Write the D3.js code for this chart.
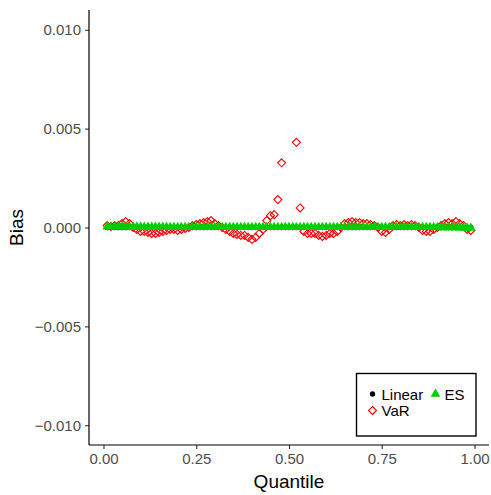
<!DOCTYPE html>
<html>
<head>
<meta charset="utf-8">
<script src="https://cdn.jsdelivr.net/npm/d3@7"></script>
<style>
  html, body { margin: 0; padding: 0; background: #fff; }
  svg { display: block; font-family: "Liberation Sans", Arial, Helvetica, sans-serif; }
</style>
</head>
<body>
<svg id="chart" width="491" height="495"></svg>
<script>
// Quantile grid 0.01 ... 0.99
const quantiles = d3.range(1, 100).map(i => i / 100);

// Bias of the linear estimator (essentially zero everywhere)
const linearBias = quantiles.map(() => 0);

// Bias of the ES estimator
const esBias = [
  0.00004, 0.00004, 0.00004, 0.00004, 0.00004, 0.00003, 0.00003, 0.00003, 0.00003, 0.00003,
  0.00002, 0.00002, 0.00002, 0.00002, 0.00002, 0.00002, 0.00002, 0.00001, 0.00001, 0.00001,
  0.00001, 0.00001, 0.00001, 0.00001, 0.00001, 0.00001, 0.00001, 0.00001, 0.00001, 0.00001,
  0.00001, 0.00001, 0.00001, 0.00001, 0.00001, 0.00001, 0.00001, 0.00001, 0.00001, 0.00001,
  0.00001, 0.00001, 0.00001, 0.00001, 0.00001, 0.00001, 0.00001, 0.00001, 0.00001, 0.00001,
  0.00001, 0.00001, 0.00001, 0.00001, 0.00001, 0.00001, 0.00001, 0.00001, 0.00001, 0.00001,
  0.00001, 0.00001, 0.00001, 0.00001, 0.00001, 0.00001, 0.00001, 0.00001, 0.00001, 0.00001,
  0.00001, 0.00001, 0.00001, 0.00001, 0.00001, 0.00001, 0.00001, 0.00001, 0.00001, 0.00001,
  0.00001, 0.00001, 0.00001, 0.00001, 0.00001, 0.00001, 0.00001, 0.00001, 0.00001, 0.00000,
  0.00000, 0.00000, 0.00000, 0.00000, 0.00000, -0.00001, -0.00001, -0.00002, -0.00003
];

// Bias of the VaR estimator (null = outside the plotted range)
const varBias = [
  0.00010, 0.00005, 0.00010, 0.00010, 0.00020, 0.00030, 0.00020, 0.00000, -0.00010, -0.00020,
  -0.00020, -0.00025, -0.00030, -0.00030, -0.00025, -0.00020, -0.00015, -0.00010, -0.00010, -0.00015,
  -0.00010, -0.00005, 0.00000, 0.00010, 0.00015, 0.00020, 0.00025, 0.00030, 0.00035, 0.00020,
  0.00010, 0.00000, -0.00010, -0.00020, -0.00030, -0.00035, -0.00040, -0.00040, -0.00050, -0.00060,
  -0.00050, -0.00030, -0.00010, 0.00035, 0.00060, 0.00065, 0.00141, 0.00327, null, null,
  null, 0.00431, 0.00099, -0.00020, -0.00030, -0.00030, -0.00030, -0.00040, -0.00045, -0.00040,
  -0.00030, -0.00030, -0.00020, 0.00000, 0.00020, 0.00025, 0.00030, 0.00025, 0.00025, 0.00020,
  0.00020, 0.00015, 0.00010, 0.00000, -0.00020, -0.00025, -0.00010, 0.00010, 0.00015, 0.00010,
  0.00015, 0.00010, 0.00015, 0.00010, 0.00000, -0.00015, -0.00020, -0.00020, -0.00010, 0.00000,
  0.00010, 0.00020, 0.00025, 0.00020, 0.00030, 0.00020, 0.00010, -0.00010, -0.00015
];

const xTicks = [0, 0.25, 0.5, 0.75, 1];
const xTickLabels = ["0.00", "0.25", "0.50", "0.75", "1.00"];
const yTicks = [-0.01, -0.005, 0, 0.005, 0.01];
const yTickLabels = ["\u22120.010", "\u22120.005", "0.000", "0.005", "0.010"];

const legendItems = ["Linear", "ES", "VaR"];

const svg = d3.select("#chart");
const panel = { left: 89, right: 489, top: 10, bottom: 445 };

const x = d3.scaleLinear()
  .domain([0.01 - 0.049, 0.99 + 0.049])
  .range([panel.left, panel.right]);
const y = d3.scaleLinear()
  .domain([-0.011, 0.011])
  .range([panel.bottom, panel.top]);

// Axes
const xAxis = d3.axisBottom(x).tickValues(xTicks)
  .tickFormat((d, i) => xTickLabels[i]).tickSize(4).tickPadding(4).tickSizeOuter(0);
const yAxis = d3.axisLeft(y).tickValues(yTicks)
  .tickFormat((d, i) => yTickLabels[i]).tickSize(4).tickPadding(4).tickSizeOuter(0);

const gx = svg.append("g").attr("transform", `translate(0,${panel.bottom})`).call(xAxis);
const gy = svg.append("g").attr("transform", `translate(${panel.left},0)`).call(yAxis);

[gx, gy].forEach(g => {
  g.select(".domain").remove();
  g.selectAll(".tick line").attr("stroke", "#333").attr("stroke-width", 1.1);
  g.selectAll(".tick text").attr("fill", "#4d4d4d").style("font-size", "15px");
});

svg.append("line")
  .attr("x1", panel.left).attr("x2", panel.right)
  .attr("y1", panel.bottom).attr("y2", panel.bottom)
  .attr("stroke", "#000").attr("stroke-width", 1.2);
svg.append("line")
  .attr("x1", panel.left).attr("x2", panel.left)
  .attr("y1", panel.top).attr("y2", panel.bottom)
  .attr("stroke", "#000").attr("stroke-width", 1.2);

// Axis titles
svg.append("text")
  .attr("x", (panel.left + panel.right) / 2).attr("y", 488)
  .attr("text-anchor", "middle").style("font-size", "19px").attr("fill", "#000")
  .text("Quantile");
svg.append("text")
  .attr("transform", `translate(23,${(panel.top + panel.bottom) / 2}) rotate(-90)`)
  .attr("text-anchor", "middle").style("font-size", "19px").attr("fill", "#000")
  .text("Bias");

// Marks
const plot = svg.append("g");
const dotSym = d3.symbol().type(d3.symbolCircle).size(22);
const triSym = d3.symbol().type(d3.symbolTriangle).size(40);
const diamondPath = s => `M0,${-s}L${s},0L0,${s}L${-s},0Z`;

function pts(values) {
  return quantiles.map((q, i) => ({ q, v: values[i] })).filter(d => d.v !== null);
}

plot.selectAll(".lin").data(pts(linearBias)).join("path")
  .attr("d", dotSym)
  .attr("transform", d => `translate(${x(d.q)},${y(d.v)})`)
  .attr("fill", "#000");

plot.selectAll(".var").data(pts(varBias)).join("path")
  .attr("d", diamondPath(4))
  .attr("transform", d => `translate(${x(d.q)},${y(d.v)})`)
  .attr("fill", "none").attr("stroke", "#ff0000").attr("stroke-width", 1.1);

plot.selectAll(".es").data(pts(esBias)).join("path")
  .attr("d", triSym)
  .attr("transform", d => `translate(${x(d.q)},${y(d.v)})`)
  .attr("fill", "#00cd00");

// Legend
const lg = svg.append("g");
lg.append("rect")
  .attr("x", 356.5).attr("y", 373.5).attr("width", 119.5).attr("height", 62.5)
  .attr("fill", "#fff").attr("stroke", "#000").attr("stroke-width", 1.4);

const legendPos = [
  { key: legendItems[0], kx: 372.5, ky: 394 },
  { key: legendItems[1], kx: 435.5, ky: 394 },
  { key: legendItems[2], kx: 372.5, ky: 410.5 }
];
legendPos.forEach(p => {
  const g = lg.append("g").attr("transform", `translate(${p.kx},${p.ky})`);
  if (p.key === "Linear") g.append("path").attr("d", dotSym).attr("fill", "#000");
  if (p.key === "ES") g.append("path").attr("d", triSym).attr("fill", "#00cd00");
  if (p.key === "VaR") g.append("path").attr("d", diamondPath(4))
    .attr("fill", "none").attr("stroke", "#ff0000").attr("stroke-width", 1.1);
  lg.append("text").attr("x", p.kx + 9).attr("y", p.ky + 5.5)
    .style("font-size", "15px").attr("fill", "#000").text(p.key);
});
</script>
</body>
</html>
